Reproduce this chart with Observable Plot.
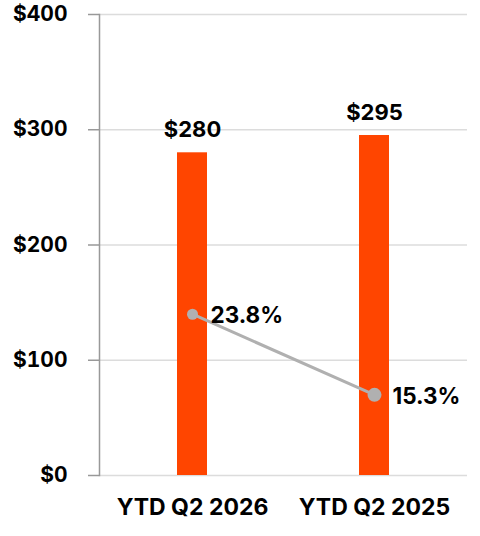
<!DOCTYPE html>
<html>
<head>
<meta charset="utf-8">
<script src="https://cdn.jsdelivr.net/npm/d3@7"></script>
<script src="https://cdn.jsdelivr.net/npm/@observablehq/plot@0.6"></script>
<style>
  html, body { margin: 0; padding: 0; background: #fff; }
</style>
</head>
<body>
<div id="chart"></div>
<script>
const categories = ["YTD Q2 2026", "YTD Q2 2025"];
const revenue = [280, 295];
const marginPct = [23.8, 15.3];
const yTicks = [0, 100, 200, 300, 400];
const pctDomain = [6.8, 55.4]; // hidden secondary axis for the percentage line

const pctScale = d3.scaleLinear().domain(pctDomain).range([0, 400]);
const data = categories.map((c, i) => ({cat: c, rev: revenue[i], pct: marginPct[i], pctY: pctScale(marginPct[i])}));

const font = "Inter, 'Liberation Sans', Arial, sans-serif";

const chart = Plot.plot({
  width: 480,
  height: 536,
  marginLeft: 99,
  marginRight: 13,
  marginTop: 14,
  marginBottom: 61,
  style: {fontFamily: font, fontSize: "22px", fontWeight: "bold", color: "#000", background: "#fff"},
  x: {domain: categories, paddingInner: 0.836, paddingOuter: 0.424, label: null},
  y: {domain: [0, 400], label: null},
  marks: [
    Plot.gridY(yTicks, {stroke: "#dcdcdc", strokeOpacity: 1, strokeWidth: 1.5}),
    Plot.axisY(yTicks, {tickSize: 11, tickPadding: 21, stroke: "#999", strokeWidth: 1.5, tickFormat: d => `$${d}`, fontSize: 21, fontWeight: "bold", label: null}),
    Plot.axisX({tickSize: 0, tickPadding: 23, fontSize: 23, fontWeight: "bold", label: null}),
    Plot.frame({anchor: "left", stroke: "#999", strokeWidth: 1.5}),
    Plot.barY(data, {x: "cat", y: "rev", fill: "#FF4500"}),
    Plot.text(data, {x: "cat", y: "rev", text: d => `$${d.rev}`, dy: -23, fontSize: 22, fontWeight: "bold", fill: "#000"}),
    Plot.line(data, {x: "cat", y: "pctY", stroke: "#b0b0b0", strokeWidth: 3}),
    Plot.dot(data.slice(0, 1), {x: "cat", y: "pctY", fill: "#b0b0b0", r: 5.5}),
    Plot.dot(data.slice(1), {x: "cat", y: "pctY", fill: "#b0b0b0", r: 7}),
    Plot.text(data, {x: "cat", y: "pctY", text: d => `${d.pct}%`, textAnchor: "start", dx: 18, dy: 2, fontSize: 22.5, fontWeight: "bold", fill: "#000"})
  ]
});
document.getElementById("chart").appendChild(chart);
</script>
</body>
</html>
